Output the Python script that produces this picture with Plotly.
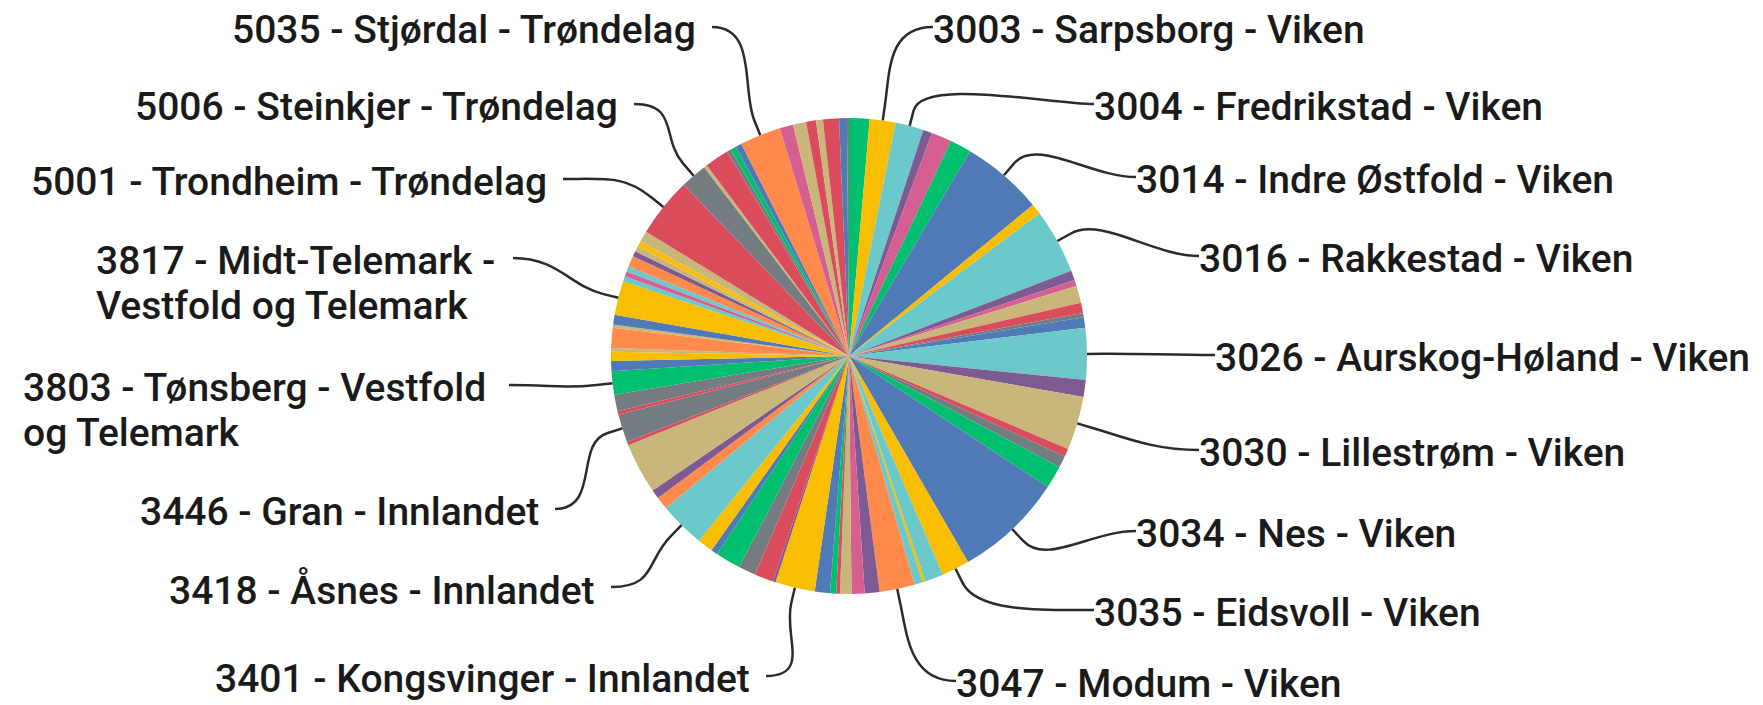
import math
import plotly.graph_objects as go

W, H = 1763, 705

# kommune number, name, value (share of the pie), clockwise from 12 o'clock
nummer = [
    "3001", "3003", "3004", "3005", "3006", "3013", "3014", "3015", "3016", "3018",
    "3019", "3020", "3021", "3022", "3024", "3026", "3028", "3030", "3031", "3032",
    "3033", "3034", "3035", "3036", "3045", "3046", "3047", "3048", "3049", "3050",
    "3051", "3053", "3054",
    "3401", "3407", "3413", "3414", "3415", "3416", "3417", "3418", "3419", "3420",
    "3442", "3443", "3446",
    "3801", "3802", "3803", "3804", "3805", "3806", "3807", "3812", "3816", "3817",
    "3818", "3819", "3820", "3821", "3822", "3823", "3824", "3825",
    "5001", "5006", "5007", "5028", "5029", "5031", "5032", "5035", "5037", "5038",
    "5041", "5053", "5054", "5057", "5061",
]
navn = [
    "Halden", "Sarpsborg", "Fredrikstad", "Drammen", "Kongsberg", "Marker", "Indre Østfold",
    "Skiptvet", "Rakkestad", "Våler", "Vestby", "Nordre Follo", "Ås", "Frogn", "Bærum",
    "Aurskog-Høland", "Enebakk", "Lillestrøm", "Nittedal", "Gjerdrum", "Ullensaker", "Nes",
    "Eidsvoll", "Nannestad", "Sigdal", "Krødsherad", "Modum", "Øvre Eiker", "Lier",
    "Flesberg", "Rollag", "Jevnaker", "Lunner",
    "Kongsvinger", "Gjøvik", "Stange", "Nord-Odal", "Sør-Odal", "Eidskog", "Grue", "Åsnes",
    "Våler", "Elverum", "Østre Toten", "Vestre Toten", "Gran",
    "Horten", "Holmestrand", "Tønsberg", "Sandefjord", "Larvik", "Porsgrunn", "Skien",
    "Siljan", "Nome", "Midt-Telemark", "Tinn", "Hjartdal", "Seljord", "Kviteseid",
    "Nissedal", "Fyresdal", "Tokke", "Vinje",
    "Trondheim", "Steinkjer", "Namsos", "Melhus", "Skaun", "Malvik", "Selbu", "Stjørdal",
    "Levanger", "Verdal", "Snåase", "Inderøy", "Indre Fosen", "Ørland", "Rindal",
]
verdi = [
    5.0, 6.3, 6.9, 2.2, 5.0, 5.2, 20.0, 2.6, 15.8, 2.4,
    1.5, 4.2, 2.5, 1.0, 2.6, 12.6, 4.1, 13.1, 2.0, 2.8,
    5.6, 26.6, 6.8, 4.5, 0.7, 2.0, 8.6, 3.6, 3.2, 2.8,
    0.9, 1.5, 3.7,
    9.7, 0.6, 4.7, 4.2, 6.2, 1.6, 3.8, 11.2, 3.1, 2.2,
    12.4, 0.9, 6.8,
    0.9, 4.0, 5.7, 2.5, 2.2, 0.9, 4.9, 0.8, 2.4, 8.3,
    1.3, 1.2, 1.3, 2.7, 1.3, 1.3, 1.4, 2.7,
    14.5, 6.5, 0.8, 5.9, 1.0, 1.4, 1.5, 10.0, 3.3, 3.2,
    2.4, 1.7, 3.9, 1.9, 0.5,
]
fylke_prefix = {"30": "Viken", "34": "Innlandet", "38": "Vestfold og Telemark", "50": "Trøndelag"}

# kommuner that get an outside label
merket = ["3003", "3004", "3014", "3016", "3026", "3030", "3034", "3035", "3047",
          "3401", "3418", "3446", "3803", "3817", "5001", "5006", "5035"]

# ---- styling ----
palette = {
    "blue": "#4F7AB5", "yellow": "#F9BE00", "turq": "#6BC8CB", "purple": "#7D5A92",
    "pink": "#D45F90", "green": "#00BF6F", "gray": "#747C82", "red": "#DA4C5C",
    "orange": "#FF8A4B", "tan": "#C8B67A",
}
slice_colours = [
    "green", "yellow", "turq", "purple", "pink", "green", "blue", "yellow", "turq", "purple",
    "pink", "tan", "red", "gray", "blue", "turq", "purple", "tan", "red", "gray",
    "green", "blue", "yellow", "turq", "yellow", "turq", "orange", "purple", "pink", "tan",
    "red", "green", "blue",
    "yellow", "purple", "red", "gray", "green", "blue", "yellow", "turq", "orange", "purple",
    "tan", "red", "gray",
    "red", "gray", "green", "blue", "yellow", "tan", "orange", "tan", "blue", "yellow",
    "turq", "pink", "turq", "orange", "purple", "tan", "yellow", "tan",
    "red", "gray", "tan", "red", "gray", "green", "blue", "orange", "pink", "tan",
    "red", "tan", "red", "blue", "gray",
]

# label placement in pixels: side, x (visible text edge), y of first line, [lines], [block right edge]
label_layout = {
    "3003": ("right", 935, 30),
    "3004": ("right", 1096, 107),
    "3014": ("right", 1138, 180),
    "3016": ("right", 1201, 259),
    "3026": ("right", 1217, 358),
    "3030": ("right", 1201, 453),
    "3034": ("right", 1138, 534),
    "3035": ("right", 1096, 613),
    "3047": ("right", 958, 684),
    "5035": ("left", 694, 30),
    "5006": ("left", 616, 107),
    "5001": ("left", 545, 182),
    "3817": ("left2", 98, 261, ["3817 - Midt-Telemark -", "Vestfold og Telemark"], 495),
    "3803": ("left2", 25, 388, ["3803 - Tønsberg - Vestfold", "og Telemark"], 491),
    "3446": ("left", 537, 512),
    "3418": ("left", 593, 590),
    "3401": ("left", 748, 679),
}
line_gap = 45
text_shift = -8          # glyphs sit low in the annotation box
pad_left, pad_right = -11, -5   # annotation box vs. visible glyph edge
font = dict(family="Roboto, Liberation Sans, sans-serif", size=39, color="#1a1a1a", weight=500)

cx, cy, r = 841, 348, 238

labels = [f"{n} - {k} - {fylke_prefix[n[:2]]}" for n, k in zip(nummer, navn)]


def px(x, y):
    return x / W, 1 - y / H


fig = go.Figure(go.Pie(
    labels=labels,
    values=verdi,
    sort=False,
    direction="clockwise",
    rotation=0,
    textinfo="none",
    hoverinfo="label+value",
    marker=dict(colors=[palette[c] for c in slice_colours], line=dict(width=0)),
    domain=dict(x=[(cx - r) / W, (cx + r) / W], y=[(H - cy - r) / H, (H - cy + r) / H]),
    showlegend=False,
))

total = sum(verdi)
cum = 0
annotations = []
shapes = []
for n, lab, v in zip(nummer, labels, verdi):
    mid = (cum + v / 2) / total * 2 * math.pi
    cum += v
    if n not in merket:
        continue
    spec = label_layout[n]
    side, tx, ty = spec[0], spec[1], spec[2]
    if side == "left2":
        for i, line in enumerate(spec[3]):
            ax, ay = px(tx + pad_left, ty + i * line_gap + text_shift)
            annotations.append(dict(x=ax, y=ay, xref="paper", yref="paper", text=line,
                                    showarrow=False, xanchor="left", yanchor="middle",
                                    borderpad=0, font=font))
        lx, s = spec[4] + 10, -1
    elif side == "right":
        ax, ay = px(tx + pad_left, ty + text_shift)
        annotations.append(dict(x=ax, y=ay, xref="paper", yref="paper", text=lab,
                                showarrow=False, yanchor="middle", xanchor="left",
                                borderpad=0, font=font))
        lx, s = tx - 10, 1
    else:
        ax, ay = px(tx + pad_right, ty + text_shift)
        annotations.append(dict(x=ax, y=ay, xref="paper", yref="paper", text=lab,
                                showarrow=False, yanchor="middle", xanchor="right",
                                borderpad=0, font=font))
        lx, s = tx + 10, -1
    ly = ty - 11
    dx, dy = math.sin(mid), -math.cos(mid)
    p = (cx + r * dx, cy + r * dy)
    b = (cx + (r + 16) * dx, cy + (r + 16) * dy)
    c2 = (cx + (r + 50) * dx, cy + (r + 50) * dy)
    c1 = (lx - s * 45, ly)
    pts = [px(*q) for q in [(lx, ly), c1, c2, b, p]]
    path = "M {:.5f},{:.5f} C {:.5f},{:.5f} {:.5f},{:.5f} {:.5f},{:.5f} L {:.5f},{:.5f}".format(
        *[c for q in pts for c in q])
    shapes.append(dict(type="path", path=path, xref="paper", yref="paper",
                       line=dict(color="#2b2b2b", width=2.5)))

fig.update_layout(
    width=W, height=H,
    margin=dict(l=0, r=0, t=0, b=0),
    paper_bgcolor="white", plot_bgcolor="white",
    annotations=annotations, shapes=shapes,
)

fig.write_html("out.html")
